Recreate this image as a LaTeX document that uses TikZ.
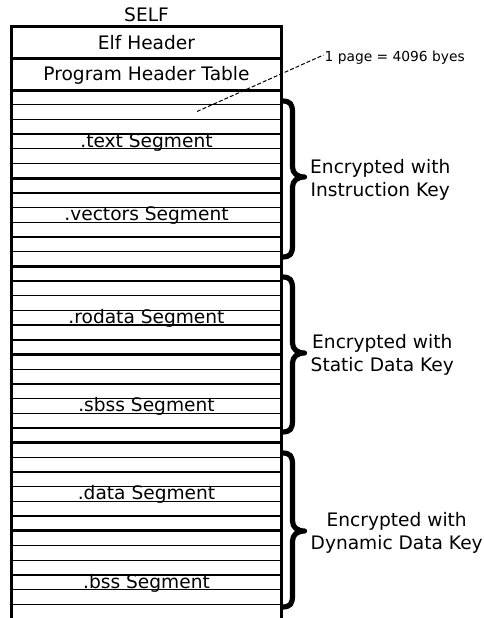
\documentclass[tikz,border=0pt]{standalone}
\usepackage{fontspec}
\setmainfont{DejaVu Sans}
\usetikzlibrary{calc}
\begin{document}
\begin{tikzpicture}[x=1pt,y=-1pt,
  thickline/.style={line width=3pt},
  thinline/.style={line width=1.4pt},
  lbl/.style={font=\fontsize{18.6}{23}\selectfont, inner sep=0pt},
  headlbl/.style={lbl, anchor=base},
  seglbl/.style={lbl, anchor=base},
  notelbl/.style={font=\fontsize{13.8}{16}\selectfont, inner sep=0pt, anchor=west},
  keylbl/.style={lbl, align=center, anchor=west},
  bracestyle/.style={line width=5.2pt, line cap=butt, line join=round},
  pageline/.style={line width=1pt, dash pattern=on 4pt off 2pt}]
\useasboundingbox (0,0) rectangle (483,618);
\clip (0,0) rectangle (483,618);
% thin page lines
\foreach \k in {0,...,5} {
  \foreach \i in {1,...,5} {
    \draw[thinline] (11.5,{90+88.17*\k+14.694*\i}) -- (281.5,{90+88.17*\k+14.694*\i});
  }
}
% thick separators
\foreach \y in {27,59,90,178.2,266.3,354.5,442.7,530.8} {
  \draw[thickline] (10,\y) -- (283,\y);
}
% outer sides
\draw[line width=3.2pt] (11.5,25.5) -- (11.5,630);
\draw[line width=3.2pt] (281.5,25.5) -- (281.5,630);
% header texts
\node[headlbl] (self) at (146.5,21.5) {SELF};
\node[headlbl] (elf) at (146.5,50) {Elf Header};
\node[headlbl] (pht) at (146.5,81) {Program Header Table};
% segment labels
\node[seglbl] (text) at (146.5,147) {.text Segment};
\node[seglbl] (vectors) at (146.5,220.5) {.vectors Segment};
\node[seglbl] (rodata) at (146.5,323) {.rodata Segment};
\node[seglbl] (sbss) at (146.5,411.5) {.sbss Segment};
\node[seglbl] (data) at (146.5,499.5) {.data Segment};
\node[seglbl] (bss) at (146.5,588) {.bss Segment};
% page note
\coordinate (pg) at (197,111.5);
\node[notelbl] (pagenote) at (324.5,58) {1 page = 4096 byes};
\draw[pageline] (pg) -- ($(pagenote.west)+(-1,-3)$);
% braces
\foreach \T/\M/\B in {101/177/257, 277/353/432, 453/531/607} {
  \draw[bracestyle] (282,\T) .. controls (290.5,\T) and (292.5,\T+3) .. (292.5,\T+12)
    -- (292.5,\M-10) .. controls (292.5,\M-4) and (297,\M) .. (304.5,\M)
    .. controls (297,\M) and (292.5,\M+4) .. (292.5,\M+10)
    -- (292.5,\B-12) .. controls (292.5,\B-3) and (290.5,\B) .. (282,\B);
}
% key labels
\node[keylbl] (k1) at (310,179.8) {Encrypted with\\Instruction Key};
\node[keylbl] (k2) at (310.5,354.8) {Encrypted with\\Static Data Key};
\node[keylbl] (k3) at (310.5,532.8) {Encrypted with\\Dynamic Data Key};
\end{tikzpicture}
\end{document}
